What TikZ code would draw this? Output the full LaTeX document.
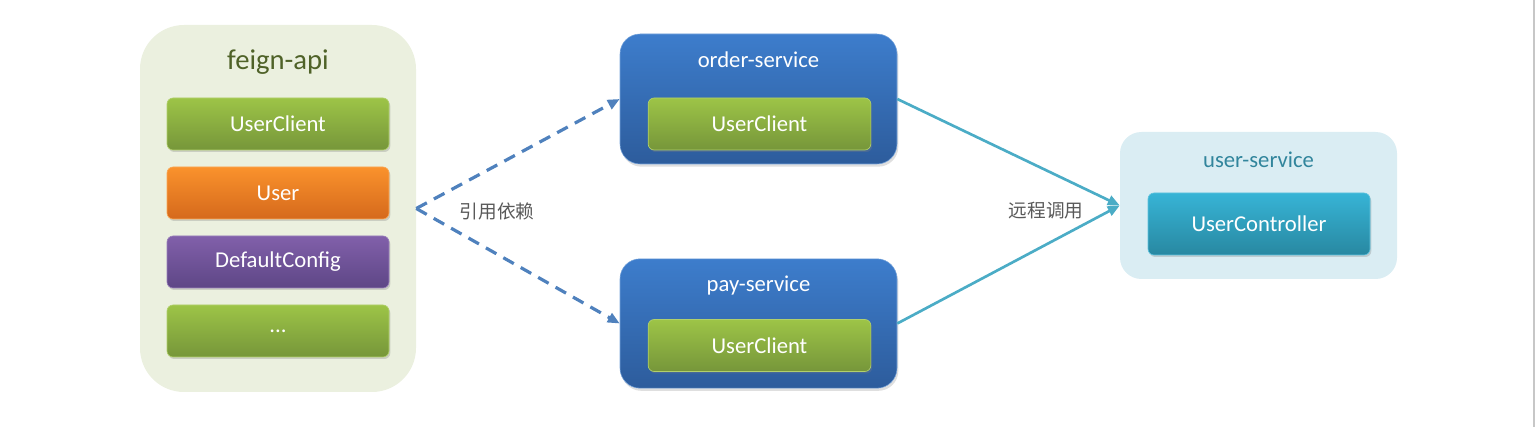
\documentclass[tikz,border=0pt]{standalone}
\usepackage{fontspec}
\setmainfont{Carlito}
\newfontfamily\cjk{Noto Sans CJK SC}
\usetikzlibrary{arrows.meta,positioning,shadows}
\definecolor{ApiPanel}{HTML}{EBF0DF}
\definecolor{ApiTitle}{HTML}{4F6228}
\definecolor{GreenTop}{HTML}{9DC447}
\definecolor{GreenBot}{HTML}{76963A}
\definecolor{OrangeTop}{HTML}{FA922C}
\definecolor{OrangeBot}{HTML}{D5691C}
\definecolor{PurpleTop}{HTML}{8160AA}
\definecolor{PurpleBot}{HTML}{5E4686}
\definecolor{BlueTop}{HTML}{3D7DCC}
\definecolor{BlueBot}{HTML}{2D5C9C}
\definecolor{UserPanel}{HTML}{DAEDF3}
\definecolor{UserTitle}{HTML}{31859C}
\definecolor{TealTop}{HTML}{37B4D6}
\definecolor{TealBot}{HTML}{2888A1}
\definecolor{DepLine}{HTML}{4F81BD}
\definecolor{CallLine}{HTML}{4BACC6}
\definecolor{NoteGray}{HTML}{595959}

\begin{document}
\begin{tikzpicture}[
        x=0.75pt, y=-0.75pt,
        font=\fontsize{17}{20}\selectfont,
        panel/.style={rounded corners=33pt, minimum width=207pt, inner sep=0pt},
        svc/.style={rounded corners=15pt, minimum width=207.75pt, inner sep=0pt,
          top color=BlueTop, bottom color=BlueBot, draw=BlueTop!70!white, line width=0.4pt,
          drop shadow={shadow xshift=1pt, shadow yshift=-2pt, opacity=0.25}},
        item/.style={rounded corners=4.5pt, minimum width=166.5pt, minimum height=39pt,
          inner sep=0pt, text=white, line width=0.5pt,
          drop shadow={shadow xshift=1pt, shadow yshift=-1.5pt, opacity=0.3}},
        green/.style={item, top color=GreenTop, bottom color=GreenBot, draw=GreenTop!80!white},
        title/.style={text=white, inner sep=0pt},
        note/.style={text=NoteGray, inner sep=0pt, font=\cjk\fontsize{14}{17}\selectfont},
        dep/.style={-{Triangle[length=9pt, width=7.5pt]}, line width=2.4pt, draw=DepLine,
          dash pattern=on 9pt off 6pt},
        call/.style={-{Triangle[length=9pt, width=7.5pt]}, line width=2pt, draw=CallLine}
      ]
        \useasboundingbox (0,0) rectangle (1535,427);
        \draw[line width=1.5pt, draw=black!22] (1533.5,0) -- (1533.5,427);

        % feign-api
        \node[panel, fill=ApiPanel, minimum height=275.25pt] (api) at (278,208.5) {};
        \node[inner sep=0pt, text=ApiTitle, font=\fontsize{21.5}{25}\selectfont] (apititle) at (278,62) {feign-api};
        \node[green] (apiclient) at (278,124) {UserClient};
        \node[item, top color=OrangeTop, bottom color=OrangeBot, draw=OrangeTop!80!white] (apiuser) at (278,193) {User};
        \node[item, top color=PurpleTop, bottom color=PurpleBot, draw=PurpleTop!80!white] (apiconfig) at (278,262) {DefaultConfig};
        \node[green] (apimore) at (278,331) {...};

        % consumers
        \node[svc, minimum height=97.5pt] (order) at (758.5,99) {};
        \node[title] (ordertitle) at (758.5,60) {order-service};
        \node[green, minimum width=167pt] (orderclient) at (759.5,124) {UserClient};
        \node[svc, minimum height=97pt] (pay) at (758.5,323.5) {};
        \node[title] (paytitle) at (758.5,286) {pay-service};
        \node[green, minimum width=167pt] (payclient) at (759.5,345.5) {UserClient};

        % provider
        \node[panel, fill=UserPanel, rounded corners=16pt, minimum width=207.75pt, minimum height=110.25pt] (user) at (1258.5,205.5) {};
        \node[title, text=UserTitle] (usertitle) at (1258.5,160) {user-service};
        \node[item, top color=TealTop, bottom color=TealBot, draw=TealTop!80!white, minimum height=46.5pt] (userctrl) at (1259,224) {UserController};

        \draw[dep] (api.east) -- (order.west);
        \draw[dep] (api.east) -- (pay.west);
        \draw[call] (order.east) -- (user.west);
        \draw[call] (pay.east) -- (user.west);
        \node[note] (deplabel) at (497,211) {引用依赖};
        \node[note] (calllabel) at (1046,211) {远程调用};
      \end{tikzpicture}
\end{document}
